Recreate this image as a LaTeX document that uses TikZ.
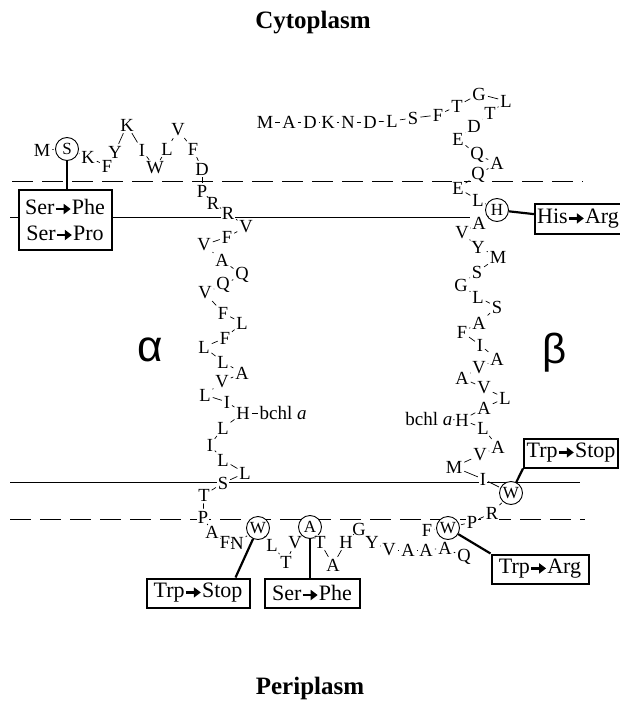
\documentclass[tikz,border=0pt]{standalone}
\usepackage{fontspec}
\setmainfont{Liberation Serif}
\newfontfamily\greekfont{Liberation Sans}
\usetikzlibrary{arrows.meta}
\newcommand{\resfont}{\fontsize{18.5pt}{21pt}\selectfont}
\newcommand{\boxfont}{\fontsize{22pt}{26pt}\selectfont}
\newcommand{\mutto}{\tikz[baseline=-0.25em]\draw[line width=2.4pt,-{Triangle[length=7pt,width=10pt]}] (0,0) -- (15pt,0);}

\begin{document}
\begin{tikzpicture}[x=1pt,y=-1pt,
  res/.style={font=\resfont, fill=white, inner sep=0.5pt},
  mut/.style={circle, draw, fill=white, line width=0.9pt, minimum size=23pt, inner sep=0pt, font=\fontsize{17pt}{19pt}\selectfont},
  mutbox/.style={draw, fill=white, line width=2pt, minimum height=29pt, inner xsep=2pt, font=\boxfont},
  link/.style={line width=0.7pt, shorten <=1.5pt, shorten >=1.5pt},
  hit/.style={line width=2.2pt},
  memline/.style={line width=1pt},
  memdash/.style={line width=1pt, dash pattern=on 21pt off 9pt},
]
\useasboundingbox (0,0) rectangle (620,711);

\draw[memdash] (12,181.5) -- (583,181.5);
\draw[memline] (10,217.5) -- (470,217.5);
\draw[memline] (10,482.7) -- (580,482.7);
\draw[memdash] (10,519.5) -- (585,519.5);

\node[font=\bfseries\fontsize{25pt}{30pt}\selectfont] (cyto) at (313,23) {Cytoplasm};
\node[font=\bfseries\fontsize{25pt}{30pt}\selectfont] (peri) at (310,688) {Periplasm};
\node[font=\greekfont\fontsize{44pt}{48pt}\selectfont] (alpha) at (150,350) {α};
\node[font=\greekfont\fontsize{42pt}{46pt}\selectfont] (beta) at (555,353) {β};

% alpha chain
\foreach \rs/\rx/\ry/\rl [count=\i] in {%
  res/42/150/M, mut/67/149/S, res/88/157/K, res/107/166/F, res/115/152/Y, res/127/125/K,
  res/142/150/I, res/155/168/W, res/167/149/L, res/178/130/V, res/193/149/F, res/202/169/D,
  res/202/191/P, res/213/203/R, res/228/213/R, res/246/227/V, res/227/237/F, res/204/245/V,
  res/222/260/A, res/242/275/Q, res/223/285/Q, res/205/293/V, res/223/313/F, res/242/323/L,
  res/225/338/F, res/204/347/L, res/223/362/L, res/242/373/A, res/222/382/V, res/205/395/L,
  res/227/402/I, res/243/413/H, res/223/428/L, res/210/445/I, res/223/460/L, res/245/473/L,
  res/223/483/S, res/204/495/T, res/203/517/P, res/212/532/A, res/225/542/F, res/237/543/N,
  mut/258/528/W, res/272/545/L, res/286/562/T, res/295/543/V, mut/310/527/A, res/320/542/T,
  res/333/565/A, res/346/542/H, res/359/529/G, res/372/542/Y, res/389/550/V, res/408/550/A,
  res/426/550/A, res/445/548/A, res/464/557/Q%
} {
  \node[\rs] (a\i) at (\rx,\ry) {\rl};
}
\foreach \i [count=\j from 2] in {1,...,56} {
  \draw[link] (a\i) -- (a\j);
}

% beta chain
\foreach \rs/\rx/\ry/\rl [count=\i] in {%
  res/265/122/M, res/289/122/A, res/310/122/D, res/328/122/K, res/348/122/N, res/370/122/D,
  res/392/121/L, res/413/118/S, res/438/115/F, res/457/106/T, res/479/94/G, res/506/101/L,
  res/490/113/T, res/474/126/D, res/458/139/E, res/477/155/Q, res/497/163/A, res/478/175/Q,
  res/458/188/E, res/478/200/L, mut/497/210/H, res/479/223/A, res/462/233/V, res/478/247/Y,
  res/498/257/M, res/477/272/S, res/461/285/G, res/478/297/L, res/497/307/S, res/479/323/A,
  res/462/332/F, res/480/345/I, res/497/359/A, res/479/368/V, res/462/378/A, res/484/388/V,
  res/505/398/L, res/484/408/A, res/462/420/H, res/483/428/L, res/498/447/A, res/480/455/V,
  res/454/467/M, res/483/479/I, mut/511/493/W, res/492/513/R, res/472/522/P, mut/448/528/W,
  res/427/530/F%
} {
  \node[\rs] (b\i) at (\rx,\ry) {\rl};
}
\foreach \i [count=\j from 2] in {1,...,48} {
  \draw[link] (b\i) -- (b\j);
}

\node[font=\fontsize{19pt}{22pt}\selectfont, anchor=west, inner sep=0.5pt] (bchlA) at (259,413) {bchl \textit{a}};
\node[font=\fontsize{19pt}{22pt}\selectfont, anchor=east, inner sep=0.5pt] (bchlB) at (453,419) {bchl \textit{a}};
\draw[link] (a32) -- (bchlA);
\draw[link] (b39) -- (bchlB);

\node[mutbox, minimum width=93pt, minimum height=60pt, align=center] (serbox) at (65,220) {Ser\mutto Phe\\Ser\mutto Pro};
\node[mutbox, minimum width=81pt] (hisbox) at (578,219) {His\mutto Arg};
\node[mutbox, minimum width=94pt] (stopR) at (571,453) {Trp\mutto Stop};
\node[mutbox, minimum width=97pt] (argbox) at (540,569) {Trp\mutto Arg};
\node[mutbox, minimum width=103pt] (stopB) at (198,593) {Trp\mutto Stop};
\node[mutbox, minimum width=95pt] (pheB) at (312,593) {Ser\mutto Phe};

\draw[hit] (a2) -- (a2 |- serbox.north);
\draw[hit] (b21) -- (hisbox);
\draw[hit] (b45) -- (stopR.south west);
\draw[hit] (b48) -- (argbox.north west);
\draw[hit] (a43) -- ([xshift=-15pt]stopB.north east);
\draw[hit] (a47) -- (a47 |- pheB.north);
\end{tikzpicture}
\end{document}
